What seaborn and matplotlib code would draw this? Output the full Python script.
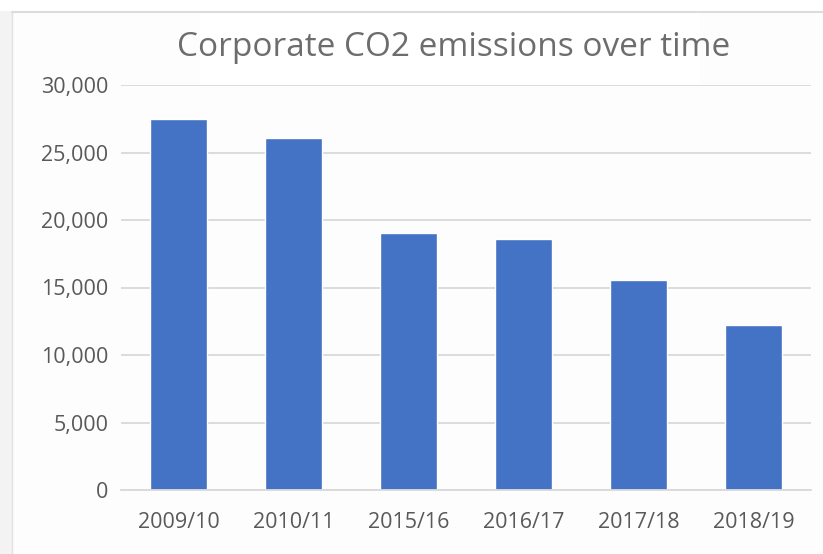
import matplotlib
matplotlib.use("Agg")
import matplotlib.pyplot as plt
import seaborn as sns
import pandas as pd
from matplotlib.ticker import FuncFormatter, MultipleLocator
from matplotlib.patches import Rectangle
from matplotlib.lines import Line2D

years = ["2009/10", "2010/11", "2015/16", "2016/17", "2017/18", "2018/19"]
emissions = [27450, 26100, 19050, 18600, 15550, 12200]
title = "Corporate CO2 emissions over time"

df = pd.DataFrame({"year": years, "co2": emissions})

sns.set_theme(style="white")
plt.rcParams["font.family"] = ["Open Sans", "DejaVu Sans"]

W, H = 823, 554
fig = plt.figure(figsize=(W / 100, H / 100), dpi=100)
fig.patch.set_facecolor("#fdfdfd")

# screenshot frame
fig.add_artist(Rectangle((0, 0), 12 / W, 1, transform=fig.transFigure,
                         facecolor="#f3f3f3", edgecolor="none"))
fig.add_artist(Line2D([12 / W, 12 / W], [0, 1 - 12 / H], transform=fig.transFigure,
                      color="#e2e2e2", lw=1))
fig.add_artist(Rectangle((0, 1 - 11 / H), 1, 11 / H, transform=fig.transFigure,
                         facecolor="#ffffff", edgecolor="none"))
fig.add_artist(Line2D([12 / W, 1], [1 - 12 / H, 1 - 12 / H], transform=fig.transFigure,
                      color="#dcdcdc", lw=1.5))

ax = fig.add_axes([121 / W, (H - 490) / H, 690 / W, 405 / H])
ax.set_facecolor("#fdfdfd")
sns.barplot(data=df, x="year", y="co2", color="#4472c4", saturation=1,
            width=0.5, ax=ax)

ax.set_ylim(0, 30000)
ax.set_xlim(-0.5, len(years) - 0.5)
ax.yaxis.set_major_locator(MultipleLocator(5000))
ax.yaxis.set_major_formatter(FuncFormatter(lambda v, p: f"{int(v):,}"))
ax.grid(axis="y", color="#d9d9d9", lw=1.3)
ax.set_axisbelow(True)
for s in ["top", "right", "left"]:
    ax.spines[s].set_visible(False)
ax.spines["bottom"].set_color("#d9d9d9")
ax.spines["bottom"].set_linewidth(1.3)
ax.set_xlabel("")
ax.set_ylabel("")
ax.tick_params(axis="both", length=0, colors="#595959", labelsize=15.5)
ax.tick_params(axis="y", pad=9)
ax.tick_params(axis="x", pad=16)

# title box
fig.add_artist(Rectangle((200 / W, (H - 85) / H), 500 / W, 73 / H,
                         transform=fig.transFigure, facecolor="white", edgecolor="none"))
fig.text(454 / W, (H - 48) / H, title, ha="center", va="center",
         fontsize=24, color="#6d6d6d")

fig.savefig("out.png", dpi=100, facecolor=fig.get_facecolor())
